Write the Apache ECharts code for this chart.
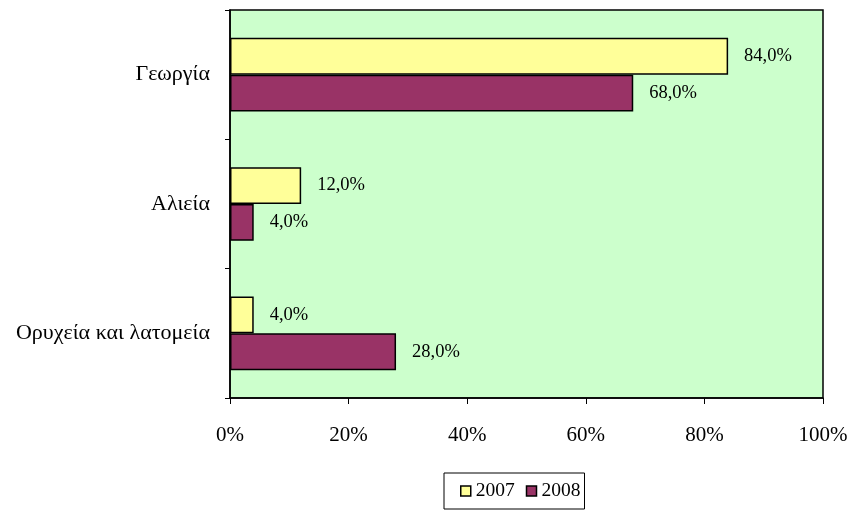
<!DOCTYPE html>
<html><head><meta charset="utf-8">
<script src="https://cdn.jsdelivr.net/npm/echarts@6/dist/echarts.min.js"></script>
<style>html,body{margin:0;padding:0;background:#fff}#c{width:857px;height:512px}</style>
</head><body><div id="c"></div>
<script>
var categories = ['Γεωργία', 'Αλιεία', 'Ορυχεία και λατομεία'];
var s2007 = [84, 12, 4];
var s2008 = [68, 4, 28];
var xTicks = [0, 20, 40, 60, 80, 100];
var font = '"Liberation Serif", "Times New Roman", serif';
function lab(p){ return p.value.toFixed(1).replace('.', ',') + '%'; }
var chart = echarts.init(document.getElementById('c'));
chart.setOption({
  animation: false,
  grid: {left: 230, right: 34, top: 10, bottom: 114, show: true, backgroundColor: '#CCFFCC', borderColor: '#000', borderWidth: 1.5},
  xAxis: {type: 'value', min: xTicks[0], max: xTicks[xTicks.length-1], interval: 20,
    axisLine: {show: true, lineStyle: {color: '#000', width: 1.5}},
    axisTick: {show: true, length: 6, lineStyle: {color: '#000'}},
    splitLine: {show: false},
    axisLabel: {formatter: '{value}%', color: '#000', fontFamily: font, fontSize: 21, margin: 27}},
  yAxis: {type: 'category', data: categories, inverse: true,
    axisLine: {show: true, lineStyle: {color: '#000', width: 1.5}},
    axisTick: {show: true, length: 5, lineStyle: {color: '#000'}},
    axisLabel: {color: '#000', fontFamily: font, fontSize: 22, margin: 20}},
  legend: {top: 473, left: 444, itemWidth: 10, itemHeight: 10, itemGap: 11, padding: [8, 4, 8, 16],
    borderColor: '#000', borderWidth: 1, icon: 'rect',
    itemStyle: {borderColor: '#000', borderWidth: 1.5},
    textStyle: {fontFamily: font, fontSize: 19.5, color: '#000', padding: [2,0,0,0]},
    data: ['2007', '2008']},
  series: [
    {name: '2007', type: 'bar', data: s2007, barGap: '0%', barCategoryGap: '43%',
     itemStyle: {color: '#FFFF99', borderColor: '#000', borderWidth: 1.5},
     label: {show: true, position: 'right', distance: 16, formatter: lab, fontFamily: font, fontSize: 18.5, color: '#000'}},
    {name: '2008', type: 'bar', data: s2008, barGap: '0%', barCategoryGap: '43%',
     itemStyle: {color: '#993366', borderColor: '#000', borderWidth: 1.5},
     label: {show: true, position: 'right', distance: 16, formatter: lab, fontFamily: font, fontSize: 18.5, color: '#000'}}
  ]
});
</script></body></html>
